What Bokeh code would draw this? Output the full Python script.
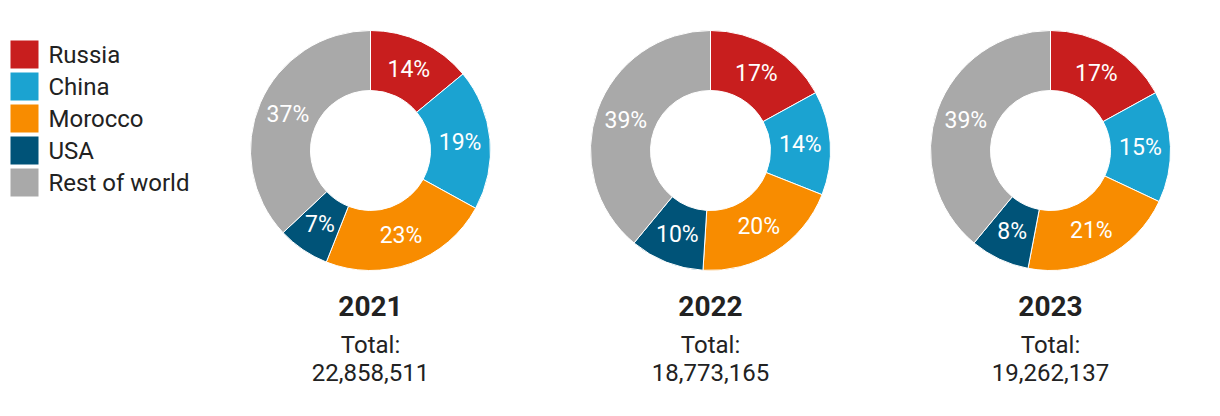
import math
from bokeh.plotting import figure
from bokeh.models import Range1d, ColumnDataSource
from bokeh.core.properties import value
from bokeh.embed import file_html
from bokeh.resources import INLINE

categories = ["Russia", "China", "Morocco", "USA", "Rest of world"]
colors = ["#C81E1E", "#1BA3D1", "#F88C00", "#005378", "#A9A9A9"]
years = ["2021", "2022", "2023"]
totals = ["22,858,511", "18,773,165", "19,262,137"]
share_2021 = [14, 19, 23, 7, 37]
share_2022 = [17, 14, 20, 10, 39]
share_2023 = [17, 15, 21, 8, 39]
shares = [share_2021, share_2022, share_2023]

W, H = 1204, 400
FONT = "Roboto"

p = figure(width=W, height=H, output_backend="svg", toolbar_location=None,
           x_range=Range1d(0, W), y_range=Range1d(0, H),
           min_border=0, outline_line_color=None)
p.axis.visible = False
p.grid.visible = False
p.background_fill_color = "white"
p.border_fill_color = "white"

def sy(py):
    return H - py

def sx(px):
    return px

centers_px = [370, 710, 1050]
cy_px = 150
R_OUT, R_IN, R_LAB = 120, 60, 90

for i, yr in enumerate(years):
    vals = shares[i]
    tot = sum(vals)
    cx, cy = sx(centers_px[i]), sy(cy_px)
    starts, ends, lx, ly, labs = [], [], [], [], []
    cum = 0
    for v in vals:
        a0 = math.pi / 2 - 2 * math.pi * cum / tot
        cum += v
        a1 = math.pi / 2 - 2 * math.pi * cum / tot
        starts.append(a0)
        ends.append(a1)
        am = (a0 + a1) / 2
        lx.append(cx + R_LAB * math.cos(am))
        ly.append(cy + R_LAB * math.sin(am))
        labs.append(f"{v}%")
    src = ColumnDataSource(dict(x=[cx] * len(vals), y=[cy] * len(vals),
                                start=starts, end=ends, color=colors))
    p.annular_wedge(x="x", y="y", inner_radius=R_IN, outer_radius=R_OUT,
                    start_angle="start", end_angle="end", direction="clock",
                    fill_color="color", line_color="white", line_width=1, source=src)
    p.text(x=lx, y=ly, text=labs, text_color="white", text_font=value(FONT),
           text_font_size="23px", text_align="center", text_baseline="middle")
    p.text(x=[cx], y=[sy(305)], text=[yr], text_color="#222222", text_font=value(FONT),
           text_font_size="28px", text_font_style="bold", text_align="center",
           text_baseline="middle")
    p.text(x=[cx, cx], y=[sy(344), sy(372)], text=["Total:", totals[i]],
           text_color="#222222", text_font=value(FONT), text_font_size="24px",
           text_align="center", text_baseline="middle")

# legend
for j, (c, name) in enumerate(zip(colors, categories)):
    top = 40 + 32 * j
    p.rect(x=[sx(10) + 14], y=[sy(top + 14)], width=28, height=28,
           fill_color=c, line_color=None)
    p.text(x=[sx(48)], y=[sy(top + 14)], text=[name], text_color="#222222",
           text_font=value(FONT), text_font_size="24px", text_align="left",
           text_baseline="middle")

open("out.html", "w").write(file_html(p, INLINE))
